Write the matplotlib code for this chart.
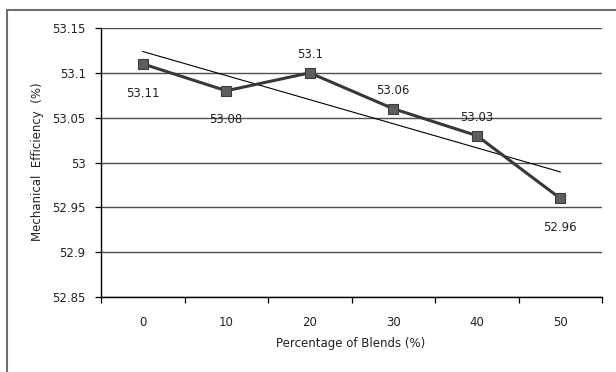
import matplotlib; matplotlib.use('Agg')
import matplotlib.pyplot as plt
import numpy as np
from matplotlib.patches import Rectangle

blends = ['0', '10', '20', '30', '40', '50']
efficiency = [53.11, 53.08, 53.1, 53.06, 53.03, 52.96]
label_pos = ['below', 'below', 'above', 'above', 'above', 'below']
yticks = [52.85, 52.9, 52.95, 53.0, 53.05, 53.1, 53.15]
ytick_labels = ['52.85', '52.9', '52.95', '53', '53.05', '53.1', '53.15']

plt.rcParams['font.family'] = 'DejaVu Sans'
fig = plt.figure(figsize=(6.16, 3.72), dpi=100)
ax = fig.add_axes([101/616, 1-297/372, (602-101)/616, (297-28)/372])

x = np.arange(len(blends))
# linear trendline
k, b0 = np.polyfit(x, efficiency, 1)
ax.plot(x, k*x + b0, color='black', lw=0.8, zorder=3)
ax.plot(x, efficiency, color='#383838', lw=2.2, marker='s', ms=6.5,
        mfc='#5e5e5e', mec='#3c3c3c', mew=0.8, zorder=4)

for xi, yi, p in zip(x, efficiency, label_pos):
    dy = -21 if p == 'below' else 13
    ax.annotate(f'{yi:g}', (xi, yi), xytext=(0, dy), textcoords='offset points',
                ha='center', va='center', fontsize=8.5, color='#222222')

ax.set_xlim(-0.5, 5.5)
ax.set_ylim(52.85, 53.15)
ax.set_yticks(yticks)
ax.set_yticklabels(ytick_labels)
ax.set_xticks(x)
ax.set_xticklabels(blends)
ax.set_xticks(np.arange(-0.5, 6, 1), minor=True)
ax.tick_params(axis='x', which='major', length=0, pad=14, labelsize=8.5, colors='#222222')
ax.tick_params(axis='x', which='minor', length=4, width=0.9, direction='out')
ax.tick_params(axis='y', length=4, width=0.9, pad=7, labelsize=8.5, colors='#222222')
ax.tick_params(axis='both', color='black')
ax.grid(axis='y', color='#505050', lw=1)
ax.set_axisbelow(True)
for s in ['top', 'right']:
    ax.spines[s].set_visible(False)
for s in ['left', 'bottom']:
    ax.spines[s].set_linewidth(1)
    ax.spines[s].set_color('black')

fig.text(351/616, 1-343/372, 'Percentage of Blends (%)', ha='center', va='center',
         fontsize=8.5, color='#222222')
fig.text(38/616, 1-162/372, 'Mechanical  Efficiency  (%)', ha='center', va='center',
         rotation=90, fontsize=8.5, color='#222222')

fig.patches.append(Rectangle((7/616, -0.05), 1.0, 1-10/372+0.05, transform=fig.transFigure,
                             fill=False, ec='#707070', lw=1.5))

plt.savefig('out.png', dpi=100)
